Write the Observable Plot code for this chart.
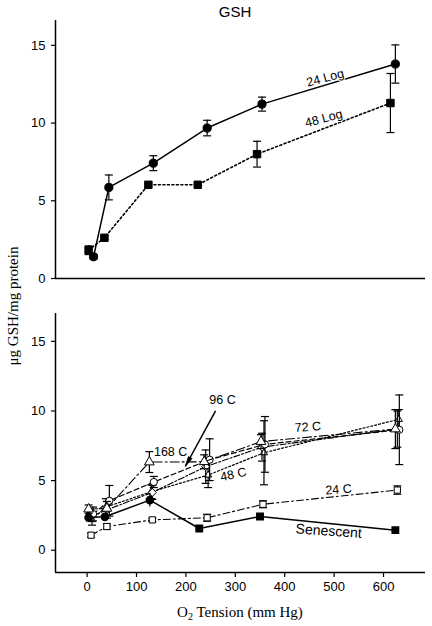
<!DOCTYPE html>
<html><head><meta charset="utf-8">
<script src="https://cdn.jsdelivr.net/npm/d3@7"></script>
<script src="https://cdn.jsdelivr.net/npm/@observablehq/plot@0.6"></script>
<style>
body{margin:0;background:#fff;}
#wrap{position:relative;width:432px;height:626px;font-family:"Liberation Sans",Arial,sans-serif;overflow:hidden;}
#title{position:absolute;left:50px;width:370px;top:3px;text-align:center;font-size:15px;line-height:18px;}
#ylab{position:absolute;left:-87px;top:297px;width:200px;text-align:center;font-family:"Liberation Serif","Times New Roman",serif;font-size:15px;line-height:18px;transform:rotate(-90deg);}
#xlab{position:absolute;left:140px;width:200px;top:603px;text-align:center;font-family:"Liberation Serif","Times New Roman",serif;font-size:15px;line-height:18px;}
#xlab sub{font-size:10px;vertical-align:-3px;line-height:0;}
#top{position:absolute;left:0;top:0;}
#bot{position:absolute;left:0;top:300px;}
</style></head>
<body>
<div id="wrap">
  <div id="top"></div>
  <div id="bot"></div>
  <div id="title">GSH</div>
  <div id="ylab">μg GSH/mg protein</div>
  <div id="xlab">O<sub>2</sub> Tension (mm Hg)</div>
</div>
<script>
// ---- data ----
const xTicks = [0, 100, 200, 300, 400, 500, 600];
const yTicks = [0, 5, 10, 15];
const xDomain = [-64, 685];

// top panel
const log24X = [13, 44, 134, 243, 354, 624];
const log24Y = [1.4, 5.86, 7.42, 9.68, 11.22, 13.8];
const log24E = [0.15, 0.8, 0.48, 0.5, 0.45, 1.23];
const log48X = [3, 35, 124, 224, 344, 614];
const log48Y = [1.82, 2.62, 6.03, 6.03, 8.0, 11.29];
const log48E = [0.28, 0.12, 0, 0, 0.83, 1.9];

// bottom panel
const senX = [3, 36, 127, 227, 350, 624];
const senY = [2.35, 2.4, 3.6, 1.56, 2.42, 1.44];
const senE = [0.15, 0.12, 0.5, 0.15, 0.1, 0.1];
const c24X = [8, 40, 132, 243, 356, 628];
const c24Y = [1.08, 1.7, 2.18, 2.33, 3.3, 4.32];
const c24E = [0.15, 0.2, 0.12, 0.25, 0.25, 0.3];
const c48X = [10, 38, 130, 245, 358, 631];
const c48Y = [2.2, 3.1, 4.2, 5.4, 7.0, 9.4];
const c48E = [0.4, 0.6, 0.5, 0.9, 2.3, 0.7];
const c72X = [12, 45, 135, 248, 360, 632];
const c72Y = [2.6, 3.55, 4.9, 6.5, 7.6, 8.65];
const c72E = [0.5, 1.1, 0.4, 1.5, 2.0, 2.5];
const c96X = [6, 40, 132, 240, 354, 628];
const c96Y = [2.4, 2.9, 4.15, 6.0, 7.4, 8.7];
const c96E = [0.3, 0.6, 0.5, 1.2, 1.0, 1.3];
const c168X = [3, 40, 126, 237, 352, 624];
const c168Y = [2.95, 3.0, 6.33, 6.35, 7.8, 8.7];
const c168E = [0.3, 0.5, 0.75, 0.5, 0.5, 1.4];

const topLabels = [
  {text: "24 Log", x: 482, y: 12.9, rotate: -15},
  {text: "48 Log", x: 479, y: 10.3, rotate: -15}
];
const botLabels = [
  {text: "96 C", x: 274, y: 10.8, rotate: 0, size: 12.5},
  {text: "168 C", x: 169, y: 7.04, rotate: 0, size: 12.5},
  {text: "48 C", x: 296, y: 5.44, rotate: -12, size: 12.5},
  {text: "72 C", x: 447, y: 8.84, rotate: -4, size: 12.5},
  {text: "24 C", x: 509, y: 4.36, rotate: -4, size: 12.5},
  {text: "Senescent", x: 489, y: 1.37, rotate: 4, size: 14}
];
const arrow96 = [{x1: 260, y1: 10.0, x2: 199, y2: 6.03}];

// ---- helpers ----
const sans = "Liberation Sans, Arial, sans-serif";
const rows = (xs, ys, es) => xs.map((x, i) => ({x, y: ys[i], e: es[i]}));
const cap = {draw(ctx, size) { const r = Math.sqrt(size / Math.PI); ctx.moveTo(-r, 0); ctx.lineTo(r, 0); }};
// narrow arrowhead, tip at the origin, pointing up
const head = {draw(ctx, size) { const r = Math.sqrt(size / Math.PI); ctx.moveTo(0, 0); ctx.lineTo(-0.45 * r, 2.2 * r); ctx.lineTo(0.45 * r, 2.2 * r); ctx.closePath(); }};

function seriesMarks(data, o) {
  return [
    Plot.ruleX(data.filter(d => d.e > 0), {x: "x", y1: d => d.y - d.e, y2: d => d.y + d.e, stroke: "black", strokeWidth: 1.2}),
    Plot.dot(data.filter(d => d.e > 0), {x: "x", y: d => d.y + d.e, symbol: cap, r: 4, stroke: "black", strokeWidth: 1.2}),
    Plot.dot(data.filter(d => d.e > 0), {x: "x", y: d => d.y - d.e, symbol: cap, r: 4, stroke: "black", strokeWidth: 1.2}),
    Plot.line(data, {x: "x", y: "y", stroke: "black", strokeWidth: o.sw ?? 1.3, strokeDasharray: o.dash}),
    Plot.dot(data, {x: "x", y: "y", symbol: o.symbol, r: o.r ?? 3.5, fill: o.fill, stroke: "black", strokeWidth: 1})
  ];
}

// ---- top panel ----
const log24 = rows(log24X, log24Y, log24E);
const log48 = rows(log48X, log48Y, log48E);
const topPlot = Plot.plot({
  width: 432, height: 290,
  marginLeft: 55, marginRight: 7, marginTop: 20, marginBottom: 12,
  x: {domain: xDomain, axis: null},
  y: {domain: [0, 16.6], axis: null},
  style: {fontFamily: sans, fontSize: "13px", color: "black", background: "white"},
  marks: [
    Plot.axisY({ticks: yTicks, tickSize: 4, tickPadding: 6, label: null, fontSize: 13, strokeWidth: 1.2}),
    Plot.ruleX([xDomain[0]], {stroke: "black", strokeWidth: 1.5}),
    Plot.ruleY([0], {stroke: "black", strokeWidth: 1.5}),
    ...seriesMarks(log48, {dash: "2,2.5", sw: 1.6, symbol: "square", r: 4.2, fill: "black"}),
    ...seriesMarks(log24, {sw: 1.5, symbol: "circle", r: 4.1, fill: "black"}),
    Plot.text(topLabels, {x: "x", y: "y", text: "text", rotate: "rotate", fontSize: 12.5, fill: "black", stroke: "white", strokeWidth: 2})
  ]
});
document.getElementById("top").append(topPlot);

// ---- bottom panel ----
const sen = rows(senX, senY, senE);
const c24 = rows(c24X, c24Y, c24E);
const c48 = rows(c48X, c48Y, c48E);
const c72 = rows(c72X, c72Y, c72E);
const c96 = rows(c96X, c96Y, c96E);
const c168 = rows(c168X, c168Y, c168E);
const botPlot = Plot.plot({
  width: 432, height: 326,
  marginLeft: 55, marginRight: 7, marginTop: 13, marginBottom: 54,
  x: {domain: xDomain, axis: null},
  y: {domain: [-1.6, 17], axis: null},
  style: {fontFamily: sans, fontSize: "13px", color: "black", background: "white"},
  marks: [
    Plot.axisY({ticks: yTicks, tickSize: 4, tickPadding: 6, label: null, fontSize: 13, strokeWidth: 1.2}),
    Plot.axisX({ticks: xTicks, tickSize: 5, tickPadding: 4, label: null, fontSize: 13, strokeWidth: 1.2}),
    Plot.ruleX([xDomain[0]], {stroke: "black", strokeWidth: 1.5}),
    Plot.ruleY([-1.6], {stroke: "black", strokeWidth: 1.5}),
    ...seriesMarks(c24, {dash: "7,3,2,3", sw: 1.1, symbol: "square", r: 3.5, fill: "white"}),
    ...seriesMarks(c48, {dash: "2,2", sw: 1.2, symbol: "triangle2", r: 3.4, fill: "white"}),
    ...seriesMarks(c96, {dash: "6,2,2,2", sw: 1.1, symbol: "diamond2", r: 3.6, fill: "white"}),
    ...seriesMarks(c72, {dash: "5,3", sw: 1.2, symbol: "circle", r: 3.6, fill: "white"}),
    ...seriesMarks(c168, {dash: "9,3,2,3", sw: 1.1, symbol: "triangle", r: 3.6, fill: "white"}),
    Plot.ruleX(sen, {x: "x", y1: d => d.y - d.e, y2: d => d.y + d.e, stroke: "black", strokeWidth: 1.2}),
    Plot.line(sen, {x: "x", y: "y", stroke: "black", strokeWidth: 1.5}),
    Plot.dot(sen, {x: "x", y: "y", symbol: d => d.x < 150 ? "circle" : "square", r: 3.6, fill: "black", stroke: "black"}),
    Plot.link(arrow96, {x1: "x1", y1: "y1", x2: "x2", y2: "y2", stroke: "black", strokeWidth: 1.5}),
    Plot.dot(arrow96, {x: "x2", y: "y2", symbol: head, r: 4.5, fill: "black", stroke: "black", strokeWidth: 0.8, rotate: 209}),
    Plot.text(botLabels, {x: "x", y: "y", text: "text", rotate: "rotate", fontSize: "size", fill: "black", stroke: "white", strokeWidth: 2})
  ]
});
document.getElementById("bot").append(botPlot);
</script>
</body></html>
